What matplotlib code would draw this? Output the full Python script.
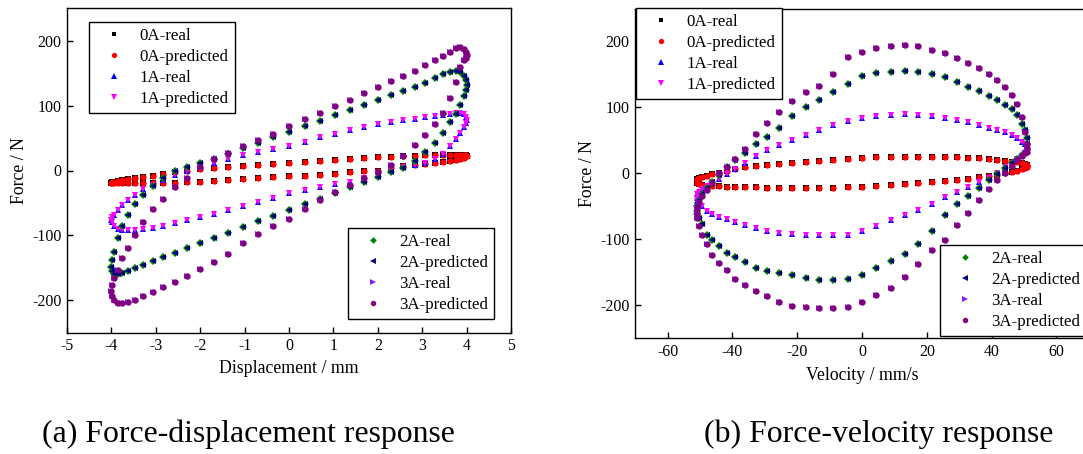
import matplotlib
matplotlib.use("Agg")
import matplotlib.pyplot as plt

plt.rcParams["font.family"] = ["Liberation Serif", "DejaVu Serif"]
plt.rcParams["axes.unicode_minus"] = False

# One sinusoidal cycle sampled every 5 degrees (72 samples)
displacement = [
    0.00, 0.35, 0.69, 1.04, 1.37, 1.69, 2.00, 2.29, 2.57, 2.83, 3.06, 3.28, 3.46, 3.63, 3.76, 3.86, 3.94, 3.98, 4.00,
    3.98, 3.94, 3.86, 3.76, 3.63, 3.46, 3.28, 3.06, 2.83, 2.57, 2.29, 2.00, 1.69, 1.37, 1.04, 0.69, 0.35, 0.00,
    -0.35, -0.69, -1.04, -1.37, -1.69, -2.00, -2.29, -2.57, -2.83, -3.06, -3.28, -3.46, -3.63, -3.76, -3.86, -3.94, -3.98, -4.00,
    -3.98, -3.94, -3.86, -3.76, -3.63, -3.46, -3.28, -3.06, -2.83, -2.57, -2.29, -2.00, -1.69, -1.37, -1.04, -0.69, -0.35,
]
velocity = [
    51.0, 50.8, 50.2, 49.3, 47.9, 46.2, 44.2, 41.8, 39.1, 36.1, 32.8, 29.3, 25.5, 21.6, 17.4, 13.2, 8.9, 4.4, 0.0,
    -4.4, -8.9, -13.2, -17.4, -21.6, -25.5, -29.3, -32.8, -36.1, -39.1, -41.8, -44.2, -46.2, -47.9, -49.3, -50.2, -50.8, -51.0,
    -50.8, -50.2, -49.3, -47.9, -46.2, -44.2, -41.8, -39.1, -36.1, -32.8, -29.3, -25.5, -21.6, -17.4, -13.2, -8.9, -4.4, 0.0,
    4.4, 8.9, 13.2, 17.4, 21.6, 25.5, 29.3, 32.8, 36.1, 39.1, 41.8, 44.2, 46.2, 47.9, 49.3, 50.2, 50.8,
]

# Damper force (N) against displacement, per coil current
force_disp_0A = [
    12, 13.5, 15, 16.5, 18, 19.5, 20.5, 21.5, 22, 23, 23.5, 23.5, 24, 24, 24, 24, 24, 23.5, 23,
    22, 20, 18, 16.5, 15, 13.5, 12, 10.5, 9, 7, 4, 0, -1.5, -3, -5, -6.5, -8, -9,
    -10.5, -11.5, -13, -14.5, -16, -17, -18, -19, -19.5, -20, -20, -20, -20, -20, -20, -20, -19.5, -19,
    -18, -17, -16, -15, -13.5, -12, -10, -8, -5.5, -3, -1, 2, 3.5, 5, 7, 8.5, 10,
]
force_disp_1A = [
    38, 44, 51, 57, 62, 67, 72, 75.5, 78, 80, 82, 84, 85.5, 87, 88.5, 89, 87, 83, 78,
    73, 67, 58, 48, 38, 26, 18, 12, 8, 5, -1, -8, -12, -17, -21, -26, -30.5, -35,
    -42, -48.5, -55, -61, -66.5, -72, -77, -81.5, -85, -88, -90, -91.5, -92, -91, -89.5, -86, -80, -76,
    -72, -68, -61, -53, -45, -37, -29, -22, -14, -6.5, 0, 6, 11, 18, 24, 28.5, 33,
]
force_disp_2A = [
    60, 68.5, 77, 85.5, 93.5, 101, 109, 116, 123, 129, 135, 142, 148, 152, 154, 152, 146, 139, 132,
    124, 115, 101, 87, 74, 58, 43, 28, 15, 4, -3, -10, -18, -26, -34.5, -43.5, -52, -61,
    -70, -78.5, -87.5, -96, -104, -112, -119, -126.5, -133, -139, -145, -150, -155, -158, -160, -159, -155, -148,
    -138, -125, -104, -86, -68, -51, -38, -24, -12, -1.5, 6, 12, 18, 26, 34.5, 43, 51.5,
]
force_disp_3A = [
    68, 79, 89, 100, 109, 119, 129, 138, 146, 154, 163, 170, 177, 183, 188.5, 190, 188, 183, 178,
    174, 170, 160, 137, 112, 88, 72, 55, 40, 22, 9, -2, -12, -22, -33, -46, -60, -74,
    -86, -98, -112, -128, -141, -152, -162, -172, -180, -188, -194, -199, -203, -204.5, -204, -200, -193, -185,
    -176, -166, -153, -135, -119, -100, -80, -60, -44, -26, -11, 5, 17, 27, 37, 47, 57,
]

# Damper force (N) against velocity, per coil current
force_vel_0A = [
    11, 13, 14.5, 15.5, 16.5, 17.5, 18.5, 19.5, 21.5, 23, 23.5, 24, 24.5, 25, 25, 24.5, 24.5, 24, 23,
    22, 20.5, 18.5, 17, 16, 14.5, 13, 11.5, 9.5, 6, 3, 0.5, -1.5, -3.5, -5.5, -7, -9, -11,
    -15, -17, -18, -19, -19.5, -20, -20.5, -21, -21, -21.5, -22, -22.5, -22.5, -22.5, -22.5, -22, -21.5, -20.5,
    -19.5, -18.5, -16.5, -15, -13.5, -12, -10.5, -8.5, -6, -4, -2, 0.5, 2.5, 4, 6, 8, 9.5,
]
force_vel_1A = [
    38, 43, 45, 48, 54, 58.5, 62, 66, 69, 73, 77.5, 81, 84, 86.7, 88, 89.5, 89, 87, 84,
    79, 73, 66, 58, 51, 43.5, 35, 26, 15.5, 7, -1, -8, -14, -19.5, -24, -28, -32, -37,
    -42, -46, -50, -57.5, -62, -66, -70, -74, -78.5, -83, -87, -90, -92, -93.5, -94, -94, -93, -87,
    -80, -71.5, -63.5, -56, -46, -36, -28, -21, -14, -7, 1, 9, 15, 21, 26, 30, 34,
]
force_vel_2A = [
    45, 54, 65, 75, 88, 97, 104, 110.5, 117.5, 124.5, 131, 138, 146, 151, 153, 154.5, 153.5, 152.5, 147,
    136, 124, 111, 100, 87, 69, 55, 44, 30, 20, 9, -3, -13, -22, -31, -40, -50, -57,
    -62, -68, -77, -93, -101, -110, -121, -127, -135, -143.5, -148, -152, -155, -159.5, -162, -162, -160, -155,
    -144, -133, -123, -108, -88, -63, -47, -34, -22, -10, -1.5, 8, 16, 22, 27, 31, 36,
]
force_vel_3A = [
    38, 45, 62, 85, 105, 119, 131, 141, 150, 160, 167, 175, 183, 187, 193, 195, 193, 190.5, 184,
    176, 150, 133, 123, 109, 93, 76, 59, 37, 22, 9, 1, -15, -25, -34, -44, -53, -60,
    -68, -80, -93, -108, -124, -136, -147, -160, -169, -179, -186, -195, -201, -203, -204, -205, -203, -196,
    -185, -174, -158, -137, -117, -101, -78, -60, -41, -24, -10, 1, 11, 20, 26, 30, 33,
]

currents = ["0A", "1A", "2A", "3A"]
disp_forces = [force_disp_0A, force_disp_1A, force_disp_2A, force_disp_3A]
vel_forces = [force_vel_0A, force_vel_1A, force_vel_2A, force_vel_3A]

# (marker, colour, size) for the measured and the model curves of each current
real_style = [("s", "#000000", 3.8), ("^", "#0000FF", 4.8), ("D", "#008000", 4.0), (">", "#8A1CFF", 4.8)]
pred_style = [("o", "#FF0000", 4.5), ("v", "#FF00FF", 4.8), ("<", "#000080", 4.8), ("o", "#800080", 4.6)]

W, H = 1083, 454
fig = plt.figure(figsize=(W / 100, H / 100), dpi=100)
ax_a = fig.add_axes([67 / W, 1 - 332.7 / H, 444 / W, 324.4 / H])
ax_b = fig.add_axes([635.2 / W, 1 - 338 / H, 453.6 / W, 329.5 / H])


def draw(ax, xdata, forces):
    handles = []
    for cur, f, rs, ps in zip(currents, forces, real_style, pred_style):
        h1, = ax.plot(xdata, f, linestyle="none", marker=rs[0], color=rs[1],
                      markersize=rs[2], markeredgewidth=0, label=f"{cur}-real")
        h2, = ax.plot(xdata, f, linestyle="none", marker=ps[0], color=ps[1],
                      markersize=ps[2], markeredgewidth=0, label=f"{cur}-predicted")
        handles += [h1, h2]
    return handles


def style_axes(ax):
    for s in ax.spines.values():
        s.set_linewidth(1.0)
    ax.tick_params(direction="in", length=4, width=1, labelsize=11.4, pad=4,
                   top=False, right=False)
    ax.set_ylim(-250, 250)
    ax.set_yticks([-200, -100, 0, 100, 200])
    ax.set_ylabel("Force / N", fontsize=12.8, labelpad=3)


def add_legend(ax, handles, x_px, y_px):
    leg = ax.legend(handles=handles, loc="upper left",
                    bbox_to_anchor=(x_px / W, 1 - y_px / H), bbox_transform=fig.transFigure,
                    borderaxespad=0, fontsize=12.2, frameon=True, fancybox=False,
                    edgecolor="black", framealpha=1, borderpad=0.35, handlelength=2.2,
                    handletextpad=0.45, labelspacing=0.3, numpoints=1, markerscale=0.85)
    leg.get_frame().set_linewidth(1.0)
    return leg


# (a) force-displacement
ha = draw(ax_a, displacement, disp_forces)
style_axes(ax_a)
ax_a.set_xlim(-5, 5)
ax_a.set_xticks(range(-5, 6))
ax_a.set_xlabel("Displacement / mm", fontsize=12.8, labelpad=4)
ax_a.add_artist(add_legend(ax_a, ha[:4], 89, 22))
add_legend(ax_a, ha[4:], 348, 228)

# (b) force-velocity
hb = draw(ax_b, velocity, vel_forces)
style_axes(ax_b)
ax_b.set_xlim(-70, 70)
ax_b.set_xticks([-60, -40, -20, 0, 20, 40, 60])
ax_b.set_xlabel("Velocity / mm/s", fontsize=12.8, labelpad=5)
ax_b.add_artist(add_legend(ax_b, hb[:4], 636, 8))
add_legend(ax_b, hb[4:], 940, 245)

fig.text(248 / W, 1 - 434 / H, "(a) Force-displacement response", ha="center", va="center", fontsize=22.9)
fig.text(879 / W, 1 - 434 / H, "(b) Force-velocity response", ha="center", va="center", fontsize=22.9)

fig.savefig("out.png", dpi=100)
